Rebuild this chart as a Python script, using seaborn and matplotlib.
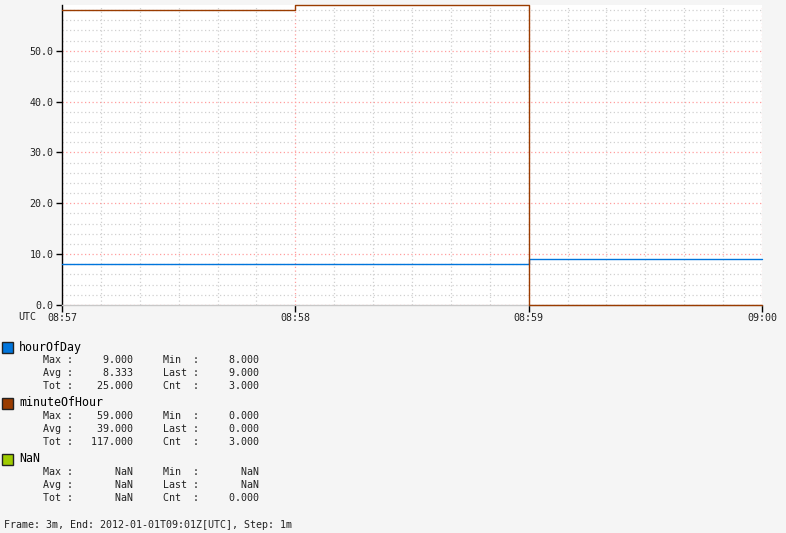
import numpy as np
import pandas as pd
import matplotlib
matplotlib.use("Agg")
import matplotlib.pyplot as plt
import matplotlib.ticker as mticker
import seaborn as sns

# ---- data ----
times = ["08:57", "08:58", "08:59"]
end_time = "09:00"
hour_of_day = [8, 8, 9]
minute_of_hour = [58, 59, 0]
nan_series = []
series_names = ["hourOfDay", "minuteOfHour", "NaN"]
series_colors = ["#0075DC", "#9A3C00", "#9FCC00"]
y_ticks = [0, 10, 20, 30, 40, 50]
footer = "Frame: 3m, End: 2012-01-01T09:01Z[UTC], Step: 1m"

sns.set_theme(style="white")
plt.rcParams["font.family"] = ["DejaVu Sans Mono", "DejaVu Sans"]

def to_min(t):
    h, m = t.split(":")
    return int(h) * 60 + int(m)

t0 = to_min(times[0])
xs = [to_min(t) - t0 for t in times]
x_end = to_min(end_time) - t0
tick_labels = times + [end_time]

rows = []
for name, vals in [(series_names[0], hour_of_day), (series_names[1], minute_of_hour)]:
    for x, v in zip(xs, vals):
        rows.append((name, x, v))
    rows.append((name, x_end, vals[-1]))
df = pd.DataFrame(rows, columns=["series", "x", "value"])

W, H = 786, 533
fig = plt.figure(figsize=(W / 100, H / 100), dpi=100, facecolor="#F5F5F5")
L, R, T, B = 62, 762, 5, 305
ax = fig.add_axes([L / W, 1 - B / H, (R - L) / W, (B - T) / H])
ax.set_facecolor("white")

sns.lineplot(data=df, x="x", y="value", hue="series",
             palette={series_names[0]: series_colors[0], series_names[1]: series_colors[1]},
             drawstyle="steps-post", linewidth=1.0, legend=False, ax=ax, zorder=3)
for ln in ax.get_lines():
    ln.set_clip_on(False)
    ln.set_zorder(4)

ax.set_xlim(0, x_end)
ax.set_ylim(0, 59)
ax.set_xlabel("")
ax.set_ylabel("")

ax.set_xticks(list(range(0, x_end + 1)))
ax.set_xticklabels(tick_labels)
ax.xaxis.set_minor_locator(mticker.MultipleLocator(1 / 6))
ax.set_yticks(y_ticks)
ax.set_yticklabels([f"{v:.1f}" for v in y_ticks])
ax.yaxis.set_minor_locator(mticker.MultipleLocator(2))

ax.grid(which="major", color="#FF9E9E", linestyle=(0, (1, 2)), linewidth=0.9, zorder=1)
ax.grid(which="minor", color="#D0D0D0", linestyle=(0, (1, 2)), linewidth=0.9, zorder=1)

for s in ["top", "right"]:
    ax.spines[s].set_visible(False)
ax.spines["left"].set_color("black")
ax.spines["left"].set_linewidth(1.0)
ax.spines["bottom"].set_color("#C8C8C8")
ax.spines["bottom"].set_linewidth(1.0)

ax.tick_params(axis="x", which="major", direction="out", length=5, width=1, color="black",
               labelsize=7.2, pad=0.5, bottom=True)
ax.tick_params(axis="y", which="major", direction="out", length=4, width=1, color="black",
               labelsize=7.2, pad=2, left=True)
ax.tick_params(which="minor", length=0)
for lab in ax.get_xticklabels() + ax.get_yticklabels():
    lab.set_color("#222222")

fig.text(18 / W, 1 - 317 / H, "UTC", fontsize=7.2, color="#222222", va="center", ha="left")

# ---- legend with stats ----
def fmt(v):
    return "NaN" if v is None or (isinstance(v, float) and np.isnan(v)) else f"{v:.3f}"

all_series = [hour_of_day, minute_of_hour, nan_series]
y = 347
for name, col, vals in zip(series_names, series_colors, all_series):
    a = np.array(vals, dtype=float)
    if len(a):
        mx, mn, avg, last, tot = a.max(), a.min(), a.mean(), a[-1], a.sum()
    else:
        mx = mn = avg = last = tot = float("nan")
    cnt = float(len(a))
    fig.patches.append(matplotlib.patches.Rectangle(
        (2 / W, 1 - (y + 6) / H), 11 / W, 11 / H, transform=fig.transFigure,
        facecolor=col, edgecolor="#222222", linewidth=1.0))
    fig.text(19 / W, 1 - y / H, name, fontsize=8.4, color="black", va="center", ha="left")
    lines = [("Max", mx, "Min", mn), ("Avg", avg, "Last", last), ("Tot", tot, "Cnt", cnt)]
    for i, (k1, v1, k2, v2) in enumerate(lines):
        s = f"{k1:<4}: {fmt(v1):>9}     {k2:<5}:{fmt(v2):>10}"
        fig.text(43 / W, 1 - (y + 13 * (i + 1)) / H, s, fontsize=7.2, color="#222222",
                 va="center", ha="left")
    y += 56

fig.text(4 / W, 1 - 525 / H, footer, fontsize=7.2, color="#222222", va="center", ha="left")

fig.savefig("out.png", dpi=100, facecolor=fig.get_facecolor())
